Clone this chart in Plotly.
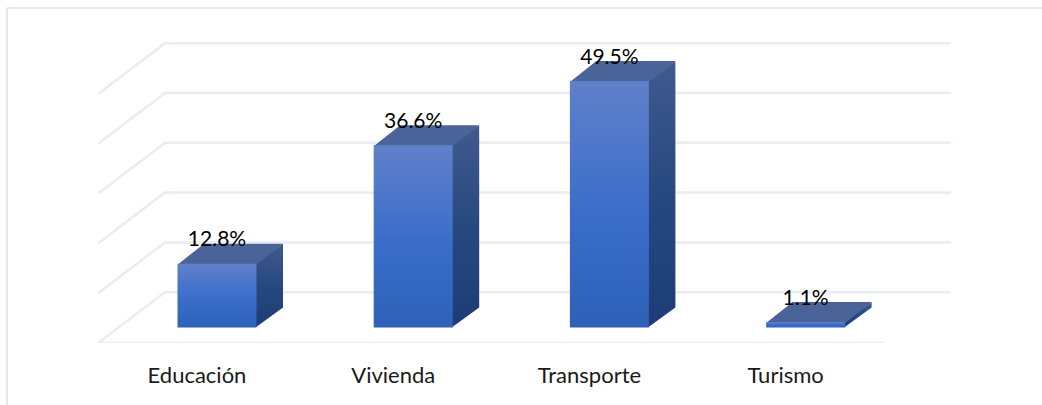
"""Pseudo-3D column chart: share of spending per sector."""

import plotly.graph_objects as go

categories = ["Educación", "Vivienda", "Transporte", "Turismo"]
shares = [12.8, 36.6, 49.5, 1.1]
share_labels = ["12.8%", "36.6%", "49.5%", "1.1%"]
grid_levels = [0, 10, 20, 30, 40, 50]

# ---------------------------------------------------------------------------
# Projection: everything below is in axis units (category index, percent)
# ---------------------------------------------------------------------------

PX_PER_CAT = 196.2
PX_PER_PCT = 4.98

BAR_WIDTH = 79 / PX_PER_CAT
BAR_DX = 26.5 / PX_PER_CAT
BAR_DY = 20 / PX_PER_PCT
SEAM_X = 1 / PX_PER_CAT
SEAM_Y = 1 / PX_PER_PCT
WALL_DX = 67 / PX_PER_CAT
WALL_DY = 50.8 / PX_PER_PCT
FLOOR_LEFT = (98 - 217) / PX_PER_CAT
FLOOR_RIGHT = (884 - 217) / PX_PER_CAT
FLOOR_LEVEL = -15.6 / PX_PER_PCT
LABEL_RISE = 22.5 / PX_PER_PCT
TICK_SHIFT = 20 / PX_PER_CAT  # category labels sit under the front floor, left of the bars

GRID_COLOR = "#e9ecf2"
FRAME_COLOR = "#e3e7ee"
FONT = "Lato"
FIG_W = 1042
FIG_H = 405


def add_poly(fig, xs, ys, color=None, gradient=None):
    """Add one filled polygon, flat colour or vertical gradient."""
    kwargs = dict(fillcolor=color) if gradient is None else dict(fillgradient=gradient)
    fig.add_trace(go.Scatter(
        x=xs + xs[:1],
        y=ys + ys[:1],
        mode="lines",
        fill="toself",
        line=dict(width=0),
        hoverinfo="skip",
        showlegend=False,
        **kwargs,
    ))


fig = go.Figure()

# back wall gridlines, side wall diagonals, front floor edge
for level in grid_levels:
    y_front = FLOOR_LEVEL + level
    y_back = y_front + WALL_DY
    x_back = FLOOR_LEFT + WALL_DX
    fig.add_trace(go.Scatter(
        x=[FLOOR_LEFT, x_back, FLOOR_RIGHT + WALL_DX],
        y=[y_front, y_back, y_back],
        mode="lines",
        line=dict(color=GRID_COLOR, width=2.5),
        hoverinfo="skip", showlegend=False, cliponaxis=False,
    ))
fig.add_trace(go.Scatter(
    x=[FLOOR_LEFT, FLOOR_RIGHT], y=[FLOOR_LEVEL, FLOOR_LEVEL], mode="lines",
    line=dict(color=GRID_COLOR, width=2.5),
    hoverinfo="skip", showlegend=False, cliponaxis=False,
))

# the columns
for i, value in enumerate(shares):
    left = i - BAR_WIDTH / 2
    right = i + BAR_WIDTH / 2
    add_poly(
        fig,
        [right - SEAM_X, right + BAR_DX, right + BAR_DX, right - SEAM_X],
        [0, BAR_DY, value + BAR_DY, value],
        gradient=dict(
            type="vertical",
            colorscale=[[0, "#1d3c77"], [0.5, "#27497f"], [1, "#405a8d"]],
        ),
    )
    add_poly(
        fig,
        [left, left + BAR_DX, right + BAR_DX, right],
        [value - SEAM_Y, value + BAR_DY, value + BAR_DY, value - SEAM_Y],
        color="#4a6399",
    )
    add_poly(
        fig,
        [left, right, right, left],
        [0, 0, value, value],
        gradient=dict(
            type="vertical",
            colorscale=[[0, "#2e61b7"], [0.45, "#3a6dc9"], [1, "#6080cb"]],
        ),
    )

fig.add_trace(go.Scatter(
    x=list(range(len(categories))),
    y=[v + LABEL_RISE for v in shares],
    text=share_labels,
    mode="text",
    textposition="middle center",
    textfont=dict(family=FONT, size=21, color="#000000"),
    hoverinfo="skip", showlegend=False, cliponaxis=False,
))

fig.update_layout(
    width=FIG_W,
    height=FIG_H,
    paper_bgcolor="#ffffff",
    plot_bgcolor="rgba(0,0,0,0)",
    margin=dict(l=98, r=90, t=42, b=62),
    showlegend=False,
    xaxis=dict(
        range=[FLOOR_LEFT, (952 - 217) / PX_PER_CAT],
        tickmode="array",
        tickvals=[i - TICK_SHIFT for i in range(len(categories))],
        ticktext=categories,
        tickfont=dict(family=FONT, size=22, color="#1a1a1a"),
        ticks="outside", ticklen=13, tickcolor="rgba(0,0,0,0)",
        showgrid=False, zeroline=False, showline=False,
    ),
    yaxis=dict(
        range=[FLOOR_LEVEL, FLOOR_LEVEL + 301 / PX_PER_PCT],
        visible=False,
    ),
    shapes=[
        # chart frame: only its left and top edges fall inside the picture
        dict(type="line", xref="paper", yref="paper",
             x0=-91 / 854, x1=-91 / 854, y0=-2, y1=(405 - 8 - 62) / 301,
             line=dict(color=FRAME_COLOR, width=2)),
        dict(type="line", xref="paper", yref="paper",
             x0=-91 / 854, x1=2, y0=(405 - 8 - 62) / 301, y1=(405 - 8 - 62) / 301,
             line=dict(color=FRAME_COLOR, width=2)),
    ],
)

# page margin would shift the picture by 8px
fig.write_html(
    "out.html",
    config=dict(displayModeBar=False),
    post_script="document.body.style.margin='0';",
)
